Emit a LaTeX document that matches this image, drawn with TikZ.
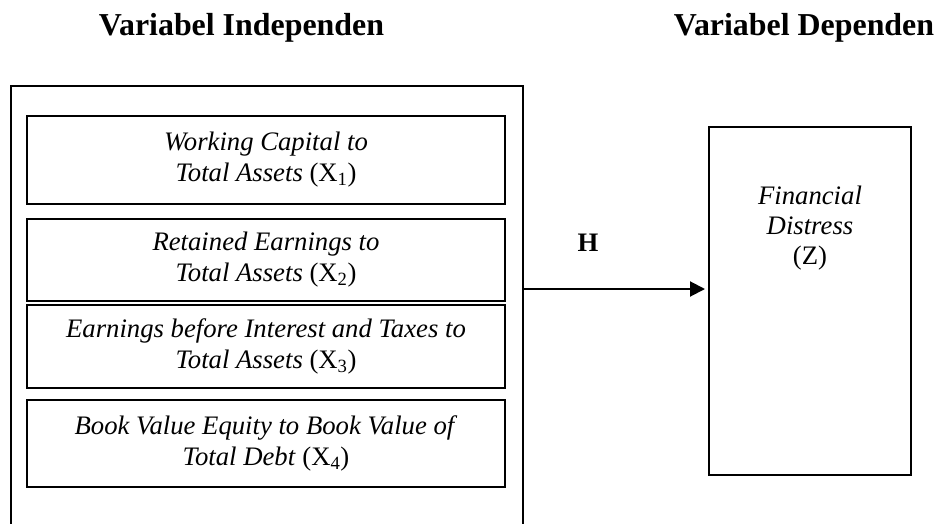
\documentclass[tikz,border=0pt]{standalone}
\usepackage{fontspec}
\setmainfont{Liberation Serif}
\usetikzlibrary{arrows.meta}

\tikzset{
  hdr/.style={font=\fontsize{31.9}{36}\selectfont\bfseries, inner sep=0pt, anchor=base},
  framebox/.style={draw, line width=2pt, inner sep=0pt},
  varbox/.style={framebox, minimum width=478pt, align=center,
                 font=\fontsize{26.7}{31}\selectfont},
  bodytext/.style={inner sep=0pt, align=center, font=\fontsize{26.7}{30}\selectfont},
  conn/.style={line width=2pt, -{Triangle[length=15pt,width=15pt]}, shorten >=3pt}
}

\begin{document}
\begin{tikzpicture}[x=1pt, y=-1pt]
  % page area
  \fill[white] (0,0) rectangle (942,524);
  \path[use as bounding box] (0,0) rectangle (942,524);
  \clip (0,0) rectangle (942,524);

  % headings
  \node[hdr] (hind) at (241.5,36) {Variabel Independen};
  \node[hdr] (hdep) at (804,36) {Variabel Dependen};

  % frame holding the independent variables (runs past the lower edge)
  \node[framebox, minimum width=512pt, minimum height=474pt] (indep) at (267,323) {};

  % independent variables
  \node[varbox, minimum height=88pt] (x1) at (266,160)
    {\textit{Working Capital to}\\\textit{Total Assets} (X\textsubscript{1})};
  \node[varbox, minimum height=82pt] (x2) at (266,259.5)
    {\textit{Retained Earnings to}\\\textit{Total Assets} (X\textsubscript{2})};
  \node[varbox, minimum height=83pt] (x3) at (266,346.5)
    {\textit{Earnings before Interest and Taxes to}\\\textit{Total Assets} (X\textsubscript{3})};
  \node[varbox, minimum height=87pt] (x4) at (266,443.5)
    {\textit{Book Value Equity to Book Value of}\\\textit{Total Debt} (X\textsubscript{4})};

  % dependent variable
  \node[framebox, minimum width=202pt, minimum height=348pt] (dep) at (810,301) {};
  \node[bodytext] (deptext) at (810,228)
    {\textit{Financial}\\\textit{Distress}\\(Z)};

  % hypothesis link
  \coordinate (hlevel) at (600,289);
  \node[inner sep=0pt, anchor=base, font=\fontsize{26.7}{31}\selectfont\bfseries] (h) at (588,251.7) {H};
  \draw[conn] (indep.east |- hlevel) -- (dep.west |- hlevel);
\end{tikzpicture}
\end{document}
